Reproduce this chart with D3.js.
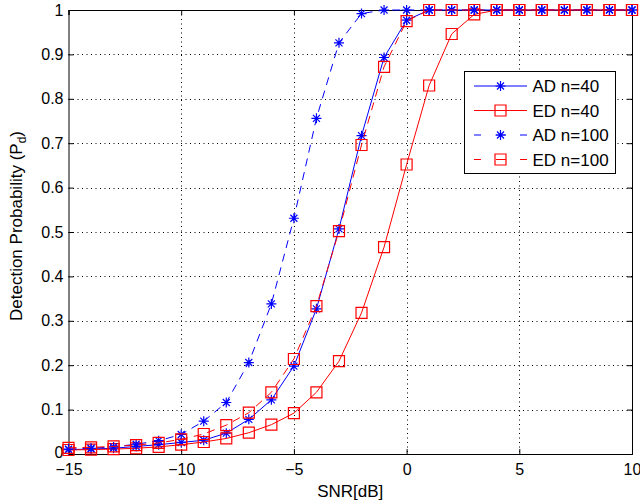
<!DOCTYPE html>
<html>
<head>
<meta charset="utf-8">
<script src="https://cdn.jsdelivr.net/npm/d3@7"></script>
<style>
  body { margin: 0; background: #fff; }
  svg { display: block; font-family: "Liberation Sans", Arial, sans-serif; }
</style>
</head>
<body>
<svg id="chart" width="640" height="504"></svg>
<script>
// SNR in dB, -15 .. 10
const snr = [-15, -14, -13, -12, -11, -10, -9, -8, -7, -6, -5, -4, -3, -2, -1, 0, 1, 2, 3, 4, 5, 6, 7, 8, 9, 10]
const adN40 = [0.010, 0.011, 0.013, 0.017, 0.021, 0.026, 0.031, 0.047, 0.078, 0.122, 0.198, 0.327, 0.507, 0.717, 0.893, 0.977, 1, 1, 1, 1, 1, 1, 1, 1, 1, 1]
const edN40 = [0.009, 0.010, 0.011, 0.013, 0.016, 0.021, 0.027, 0.035, 0.048, 0.066, 0.092, 0.139, 0.209, 0.318, 0.466, 0.652, 0.830, 0.946, 0.990, 1, 1, 1, 1, 1, 1, 1]
const adN100 = [0.011, 0.013, 0.016, 0.022, 0.030, 0.044, 0.074, 0.116, 0.206, 0.338, 0.531, 0.756, 0.926, 0.992, 1, 1, 1, 1, 1, 1, 1, 1, 1, 1, 1, 1]
const edN100 = [0.014, 0.015, 0.017, 0.020, 0.025, 0.033, 0.045, 0.065, 0.093, 0.139, 0.214, 0.333, 0.502, 0.696, 0.872, 0.975, 1, 1, 1, 1, 1, 1, 1, 1, 1, 1]
const xTicks = [-15, -10, -5, 0, 5, 10]
const yTicks = [0, 0.1, 0.2, 0.3, 0.4, 0.5, 0.6, 0.7, 0.8, 0.9, 1]
const legendLabels = ["AD n=40", "ED n=40", "AD n=100", "ED n=100"]

const margin = {top: 10, right: 8, bottom: 50, left: 68.5}
const [width, height] = [640, 504]

const series = [
  {name: legendLabels[0], values: adN40, color: "#0000ff", dash: null, marker: "star"},
  {name: legendLabels[1], values: edN40, color: "#ff0000", dash: null, marker: "square"},
  {name: legendLabels[2], values: adN100, color: "#0000ff", dash: "8,6", marker: "star"},
  {name: legendLabels[3], values: edN100, color: "#ff0000", dash: "8,6", marker: "square"}
]

const svg = d3.select("#chart")

const x = d3.scaleLinear()
  .domain([-15, 10])
  .range([margin.left, width - margin.right])
const y = d3.scaleLinear()
  .domain([0, 1])
  .range([height - margin.bottom, margin.top])

// grid
const grid = svg.append("g")
  .attr("stroke", "#000")
  .attr("stroke-width", 1)
  .attr("stroke-dasharray", "1,3.5")
grid.selectAll("line.gx")
  .data(xTicks.slice(1, -1))
  .join("line")
    .attr("x1", d => Math.round(x(d)) + 0.5)
    .attr("x2", d => Math.round(x(d)) + 0.5)
    .attr("y1", y(1))
    .attr("y2", y(0))
grid.selectAll("line.gy")
  .data(yTicks.slice(1, -1))
  .join("line")
    .attr("x1", x(-15))
    .attr("x2", x(10))
    .attr("y1", d => Math.round(y(d)) + 0.5)
    .attr("y2", d => Math.round(y(d)) + 0.5)

// axes (ticks drawn inward, MATLAB style)
const xAxis = g => g
  .attr("transform", `translate(0, ${y(0)})`)
  .call(d3.axisBottom(x).tickValues(xTicks).tickSize(-5).tickPadding(10)
    .tickFormat(d => d < 0 ? "\u2212" + Math.abs(d) : d))
const xAxisTop = g => g
  .attr("transform", `translate(0, ${y(1)})`)
  .call(d3.axisTop(x).tickValues(xTicks).tickSize(-5).tickFormat(""))
const yAxis = g => g
  .attr("transform", `translate(${x(-15)}, 0)`)
  .call(d3.axisLeft(y).tickValues(yTicks).tickSize(-5).tickPadding(5).tickFormat(d3.format("")))
const yAxisRight = g => g
  .attr("transform", `translate(${x(10)}, 0)`)
  .call(d3.axisRight(y).tickValues(yTicks).tickSize(-5).tickFormat(""))

for (const a of [xAxis, xAxisTop, yAxis, yAxisRight]) {
  svg.append("g")
    .call(a)
    .call(g => g.selectAll("text").attr("font-size", 16).attr("fill", "#000").attr("font-family", "Liberation Sans, Arial, sans-serif"))
    .call(g => g.selectAll("line, path").attr("stroke", "#000"))
}

// lift the "0" label a touch so it clears the "−15" below it
svg.selectAll("text").filter(function () { return this.textContent === "0" && this.getAttribute("x") !== null && +this.getAttribute("x") < 0 })
  .attr("dy", "0.2em")

// lines
const line = d3.line()
  .x((d, i) => x(snr[i]))
  .y(d => y(d))

const starPath = s => `M${-s},0L${s},0M0,${-s}L0,${s}M${-s*0.7},${-s*0.7}L${s*0.7},${s*0.7}M${-s*0.7},${s*0.7}L${s*0.7},${-s*0.7}`
const squarePath = s => `M${-s},${-s}H${s}V${s}H${-s}Z`

function drawMarker(g, marker, color) {
  g.append("path")
    .attr("d", marker === "star" ? starPath(5) : squarePath(5.5))
    .attr("fill", "none")
    .attr("stroke", color)
    .attr("stroke-width", 1.2)
}

series.forEach(s => {
  svg.append("path")
    .datum(s.values)
    .attr("d", line)
    .attr("fill", "none")
    .attr("stroke", s.color)
    .attr("stroke-width", 1)
    .attr("stroke-dasharray", s.dash)

  svg.append("g")
    .selectAll("g")
    .data(s.values)
    .join("g")
      .attr("transform", (d, i) => `translate(${x(snr[i])}, ${y(d)})`)
      .each(function () { drawMarker(d3.select(this), s.marker, s.color) })
})

// legend
const legend = svg.append("g").attr("transform", "translate(464.5, 71.5)")
legend.append("rect")
  .attr("width", 151)
  .attr("height", 102)
  .attr("fill", "#fff")
  .attr("stroke", "#000")
const rows = legend.selectAll("g")
  .data(series)
  .join("g")
    .attr("transform", (d, i) => `translate(0, ${14.5 + i * 24.5})`)
rows.append("line")
  .attr("x1", 9.5)
  .attr("x2", 62.5)
  .attr("stroke", d => d.color)
  .attr("stroke-dasharray", d => d.dash ? "7,15,10,14,7" : null)
rows.append("g")
  .attr("transform", "translate(36, 0)")
  .each(function (d) { drawMarker(d3.select(this), d.marker, d.color) })
rows.append("text")
  .attr("x", 68)
  .attr("dy", "0.36em")
  .attr("font-size", 17)
  .text(d => d.name)

// axis labels
svg.append("text")
  .attr("x", (x(-15) + x(10)) / 2)
  .attr("y", 497)
  .attr("text-anchor", "middle")
  .attr("font-size", 17)
  .text("SNR[dB]")

const yl = svg.append("text")
  .attr("transform", `translate(22, 226) rotate(-90)`)
  .attr("text-anchor", "middle")
  .attr("font-size", 17)
yl.append("tspan").text("Detection Probability (P")
yl.append("tspan").attr("font-size", 12).attr("dy", 4).text("d")
yl.append("tspan").attr("dy", -4).text(")")
</script>
</body>
</html>
